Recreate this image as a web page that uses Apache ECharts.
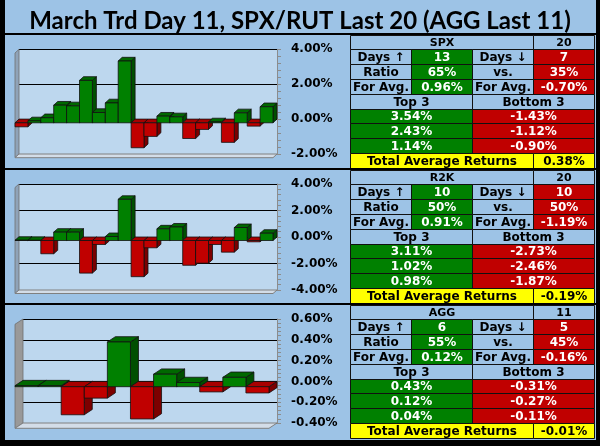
<!DOCTYPE html>
<html><head><meta charset="utf-8">
<script src="https://cdn.jsdelivr.net/npm/echarts@6/dist/echarts.min.js"></script>
<style>html,body{margin:0;padding:0;background:#9DC3E6;}#c{width:600px;height:446px;}</style>
</head><body><div id="c"></div>
<script>
// ---------- data ----------
const titleText = 'March Trd Day 11, SPX/RUT Last 20 (AGG Last 11)';
const days20 = ['1','2','3','4','5','6','7','8','9','10','11','12','13','14','15','16','17','18','19','20'];
const days11 = ['1','2','3','4','5','6','7','8','9','10','11'];
const spxValues = [-0.23, 0.11, 0.29, 1.01, 0.97, 2.43, 0.59, 1.14, 3.54, -1.43, -0.78, 0.38, 0.34, -0.90, -0.38, 0.05, -1.12, 0.57, -0.19, 0.92];
const r2kValues = [0.02, 0.01, -1.00, 0.63, 0.63, -2.46, -0.30, 0.30, 3.11, -2.73, -0.55, 0.88, 1.02, -1.87, -1.71, -0.30, -0.88, 0.98, -0.10, 0.55];
const aggValues = [0.01, 0.01, -0.27, -0.11, 0.43, -0.31, 0.12, 0.04, -0.05, 0.09, -0.06];

const tableNames = ['SPX', 'R2K', 'AGG'];
const tableCount = ['20', '20', '11'];
const daysUp = ['13', '10', '6'];
const daysDown = ['7', '10', '5'];
const ratioUp = ['65%', '50%', '55%'];
const ratioDown = ['35%', '50%', '45%'];
const avgUp = ['0.96%', '0.91%', '0.12%'];
const avgDown = ['-0.70%', '-1.19%', '-0.16%'];
const top3 = [['3.54%', '2.43%', '1.14%'], ['3.11%', '1.02%', '0.98%'], ['0.43%', '0.12%', '0.04%']];
const bottom3 = [['-1.43%', '-1.12%', '-0.90%'], ['-2.73%', '-2.46%', '-1.87%'], ['-0.31%', '-0.27%', '-0.11%']];
const totalAvg = ['0.38%', '-0.19%', '-0.01%'];

// ---------- layout / style ----------
const BLUE = '#9DC3E6', WALL = '#BDD7EE', GREEN = '#008000', RED = '#C00000', YEL = '#FFFF00';
const FONT = '"DejaVu Sans", Verdana, sans-serif';
const panels = [
  { cats: days20, vals: spxValues, left: 15, top: 53, width: 258, height: 104.7, dx: 4, dy: 3.7, min: -2, max: 4, interval: 2, wall: '#8fa3b8' },
  { cats: days20, vals: r2kValues, left: 15, top: 187.5, width: 258, height: 106, dx: 4, dy: 3.5, min: -4, max: 4, interval: 2, wall: '#8fa3b8' },
  { cats: days11, vals: aggValues, left: 15, top: 324.3, width: 254, height: 104, dx: 8, dy: 5.3, min: -0.4, max: 0.6, interval: 0.2, wall: '#999999' }
];

const grids = [], xAxes = [], yAxes = [], series = [];
panels.forEach((p, k) => {
  grids.push({ left: p.left + p.dx, top: p.top - p.dy, width: p.width, height: p.height, show: true, backgroundColor: WALL, borderWidth: 0 });
  grids.push({ left: p.left, top: p.top, width: p.width, height: p.height, show: false });
  const gb = 2 * k, gf = 2 * k + 1;
  xAxes.push({ type: 'category', data: p.cats, gridIndex: gb, show: false });
  xAxes.push({ type: 'category', data: p.cats, gridIndex: gf, show: false });
  yAxes.push({
    type: 'value', gridIndex: gb, position: 'right', min: p.min, max: p.max, interval: p.interval,
    axisLine: { show: true, lineStyle: { color: '#8c8c8c', width: 1 } },
    axisTick: { show: true, length: 4, lineStyle: { color: '#8c8c8c' } },
    minorTick: { show: true, splitNumber: 5, length: 4, lineStyle: { color: '#8c8c8c' } },
    splitLine: { show: true, lineStyle: { color: '#000', width: 1 } },
    axisLabel: { margin: 14, color: '#000', fontFamily: FONT, fontWeight: 'bold', fontSize: 12,
      formatter: v => v.toFixed(2) + '%' }
  });
  yAxes.push({ type: 'value', gridIndex: gf, min: p.min, max: p.max, interval: p.interval, show: false });

  const dx = p.dx, dy = p.dy;
  series.push({
    type: 'custom', xAxisIndex: gf, yAxisIndex: gf, z: 1, silent: true,
    data: [[0, p.min]],
    renderItem: (params) => {
      const c = params.coordSys;
      const x = c.x, y = c.y, w = c.width, h = c.height;
      return { type: 'group', children: [
        { type: 'polygon', shape: { points: [[x, y], [x + dx, y - dy], [x + dx, y + h - dy], [x, y + h]] },
          style: { fill: p.wall, stroke: '#6f6f6f', lineWidth: 0.8 } },
        { type: 'polygon', shape: { points: [[x, y + h], [x + dx, y + h - dy], [x + w + dx, y + h - dy], [x + w, y + h]] },
          style: { fill: '#d3dde8', stroke: '#808080', lineWidth: 1 } }
      ] };
    }
  });
  series.push({
    type: 'custom', xAxisIndex: gf, yAxisIndex: gf, z: 2, silent: true,
    data: p.vals.map((v, i) => [i, v]),
    encode: { x: 0, y: 1 },
    renderItem: (params, api) => {
      const i = api.value(0), v = api.value(1);
      const pz = api.coord([i, 0]), pv = api.coord([i, v]);
      const w = api.size([1, 0])[0];
      const x0 = pz[0] - w / 2, x1 = pz[0] + w / 2;
      const yT = Math.min(pz[1], pv[1]), yB = Math.max(pz[1], pv[1]);
      const pos = v >= 0;
      const cf = pos ? GREEN : RED, ct = pos ? '#006800' : '#a80000', cs = pos ? '#004f00' : '#7c0000';
      const edge = { stroke: '#111', lineWidth: 0.8 };
      const zb = params.dataIndex * 3;
      return { type: 'group', children: [
        { type: 'polygon', z2: zb, shape: { points: [[x1, yT], [x1 + dx, yT - dy], [x1 + dx, yB - dy], [x1, yB]] }, style: Object.assign({ fill: cs }, edge) },
        { type: 'polygon', z2: zb + 1, shape: { points: [[x0, yT], [x0 + dx, yT - dy], [x1 + dx, yT - dy], [x1, yT]] }, style: Object.assign({ fill: ct }, edge) },
        { type: 'rect', z2: zb + 2, shape: { x: x0, y: yT, width: w, height: yB - yT }, style: Object.assign({ fill: cf }, edge) }
      ] };
    }
  });
});

// ---------- tables ----------
const colX = [350, 411, 472, 533, 594];
const graphics = [];
function rowY(T, r) { return r === 0 ? T : Math.round(T + 14 + (r - 1) * 14.875); }
function cell(T, r, c0, c1, fill, text, color, size) {
  const x = colX[c0], y = rowY(T, r), w = colX[c1 + 1] - x, h = rowY(T, r + 1) - y;
  graphics.push({ type: 'rect', z: 10, shape: { x: x + 0.5, y: y + 0.5, width: w, height: h },
    style: { fill: fill, stroke: '#111', lineWidth: 1 } });
  graphics.push({ type: 'text', z: 11, x: x + w / 2 + 0.5, y: y + h / 2 + 1,
    style: { text: text, fill: color, font: 'bold ' + (size || 12) + 'px ' + FONT, align: 'center', verticalAlign: 'middle' } });
}
for (let k = 0; k < 3; k++) {
  const T = 35 + 135 * k;
  cell(T, 0, 0, 2, BLUE, tableNames[k], '#000', 11);
  cell(T, 0, 3, 3, BLUE, tableCount[k], '#000', 11);
  cell(T, 1, 0, 0, BLUE, 'Days ↑', '#000');
  cell(T, 1, 1, 1, GREEN, daysUp[k], '#fff');
  cell(T, 1, 2, 2, BLUE, 'Days ↓', '#000');
  cell(T, 1, 3, 3, RED, daysDown[k], '#fff');
  cell(T, 2, 0, 0, BLUE, 'Ratio', '#000');
  cell(T, 2, 1, 1, GREEN, ratioUp[k], '#fff');
  cell(T, 2, 2, 2, BLUE, 'vs.', '#000');
  cell(T, 2, 3, 3, RED, ratioDown[k], '#fff');
  cell(T, 3, 0, 0, BLUE, 'For Avg.', '#000');
  cell(T, 3, 1, 1, GREEN, avgUp[k], '#fff');
  cell(T, 3, 2, 2, BLUE, 'For Avg.', '#000');
  cell(T, 3, 3, 3, RED, avgDown[k], '#fff');
  cell(T, 4, 0, 1, BLUE, 'Top 3', '#000');
  cell(T, 4, 2, 3, BLUE, 'Bottom 3', '#000');
  for (let j = 0; j < 3; j++) {
    cell(T, 5 + j, 0, 1, GREEN, top3[k][j], '#fff');
    cell(T, 5 + j, 2, 3, RED, bottom3[k][j], '#fff');
  }
  cell(T, 8, 0, 2, YEL, 'Total Average Returns', '#000');
  cell(T, 8, 3, 3, YEL, totalAvg[k], '#000');
}
[[0, 0, 5, 446], [596, 0, 4, 446], [0, 440, 600, 6], [0, 33, 600, 2], [0, 168, 600, 2], [0, 303, 600, 2]].forEach(r => {
  graphics.push({ type: 'rect', z: 20, shape: { x: r[0], y: r[1], width: r[2], height: r[3] }, style: { fill: '#000' } });
});

const chart = echarts.init(document.getElementById('c'));
chart.setOption({
  backgroundColor: BLUE,
  animation: false,
  title: { text: titleText, left: 'center', top: 4,
    textStyle: { fontFamily: 'Lato, "Open Sans", sans-serif', fontWeight: 'bold', fontSize: 24, color: '#000' } },
  grid: grids, xAxis: xAxes, yAxis: yAxes, series: series, graphic: graphics
});
</script></body></html>
